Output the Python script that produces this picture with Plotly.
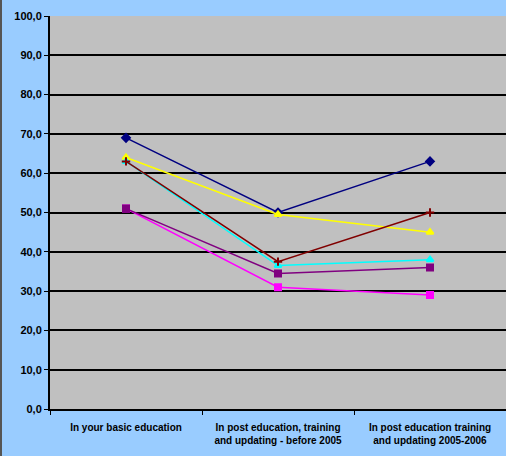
import plotly.graph_objects as go

categories = [
    "In your basic education",
    "In post education, training<br>and updating - before 2005",
    "In post education training<br>and updating 2005-2006",
]
series_names = ["Series 1", "Series 2", "Series 3", "Series 4", "Series 5", "Series 6"]
navy_vals = [69.0, 50.0, 63.0]
yellow_vals = [64.0, 49.5, 45.0]
darkred_vals = [63.0, 37.5, 50.0]
cyan_vals = [63.0, 36.5, 38.0]
purple_vals = [51.0, 34.5, 36.0]
magenta_vals = [51.0, 31.0, 29.0]
y_ticks = [0, 10, 20, 30, 40, 50, 60, 70, 80, 90, 100]

styles = [
    (navy_vals, "#000080", "diamond"),
    (magenta_vals, "#FF00FF", "square"),
    (yellow_vals, "#FFFF00", "triangle-up"),
    (cyan_vals, "#00FFFF", "triangle-up"),
    (purple_vals, "#800080", "square"),
    (darkred_vals, "#800000", "cross-thin"),
]

fig = go.Figure()
for name, (vals, color, sym) in zip(series_names, styles):
    fig.add_trace(go.Scatter(
        x=categories, y=vals, mode="lines+markers", name=name,
        line=dict(color=color, width=1.5),
        marker=dict(symbol=sym, size=6, color=color,
                    line=dict(color=color, width=2)),
    ))

font_family = "Liberation Sans, Arial, sans-serif"
fig.update_layout(
    width=506, height=456,
    margin=dict(l=50, r=0, t=16, b=47),
    paper_bgcolor="#99CCFF",
    plot_bgcolor="#C0C0C0",
    showlegend=False,
    separators=", ",
    font=dict(family=font_family, size=10, color="black"),
    xaxis=dict(
        type="category",
        range=[-0.5, 2.5],
        tickson="boundaries",
        showgrid=False, zeroline=False,
        showline=True, linecolor="black", linewidth=2,
        ticks="outside", ticklen=4, tickcolor="black",
        ticklabelstandoff=8,
        tickfont=dict(size=10, family=font_family, weight="bold"),
    ),
    yaxis=dict(
        range=[0, 100], tickvals=y_ticks, tickformat=".1f",
        showgrid=True, gridcolor="black", gridwidth=1.5,
        zeroline=False,
        showline=True, linecolor="black", linewidth=2,
        ticks="outside", ticklen=4, tickcolor="black",
        tickfont=dict(size=11, family=font_family, weight="bold"),
    ),
)
fig.add_shape(type="line", xref="paper", yref="paper",
              x0=-49/456, x1=-49/456, y0=-47/393, y1=1+16/393,
              line=dict(color="#555555", width=2))
fig.write_html("out.html", config={"displayModeBar": False},
               post_script="document.body.style.margin='0';")
